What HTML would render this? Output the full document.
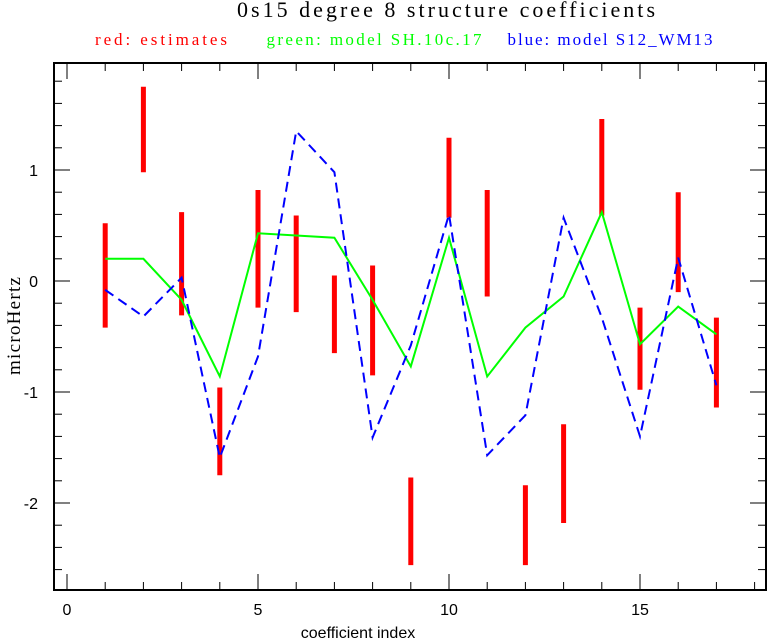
<!DOCTYPE html>
<html><head><meta charset="utf-8"><style>
html,body{margin:0;padding:0;background:#fff;}
svg{display:block;}
</style></head><body>
<svg id="chart" width="767" height="641" xmlns="http://www.w3.org/2000/svg">
<text x="446" y="17" text-anchor="middle" font-family="Liberation Serif, serif" font-size="22" textLength="418" fill="#000">0s15 degree 8 structure coefficients</text>
<text x="161" y="45" text-anchor="middle" font-family="Liberation Serif, serif" font-size="17" textLength="132" fill="#ff0000">red: estimates</text>
<text x="374" y="45" text-anchor="middle" font-family="Liberation Serif, serif" font-size="17" textLength="215" fill="#00ff00">green: model SH.10c.17</text>
<text x="610" y="45" text-anchor="middle" font-family="Liberation Serif, serif" font-size="17" textLength="205" fill="#0000ff">blue: model S12_WM13</text>
<rect x="54" y="63" width="712" height="527" fill="none" stroke="#000" stroke-width="2"/>
<g id="ticks"></g>
<g id="marks"></g>
<text x="358" y="638" text-anchor="middle" font-family="Liberation Sans, sans-serif" font-size="16" fill="#000">coefficient index</text>
<text transform="translate(20,326) rotate(-90)" text-anchor="middle" font-family="Liberation Serif, serif" font-size="19" textLength="98" fill="#000">microHertz</text>
</svg>
<script>
const indices = [1,2,3,4,5,6,7,8,9,10,11,12,13,14,15,16,17];
const estLow = [-0.42,0.98,-0.31,-1.75,-0.24,-0.28,-0.65,-0.85,-2.56,0.57,-0.14,-2.56,-2.18,0.59,-0.98,-0.10,-1.14];
const estHigh = [0.52,1.75,0.62,-0.96,0.82,0.59,0.05,0.14,-1.77,1.29,0.82,-1.84,-1.29,1.46,-0.24,0.80,-0.33];
const greenModel = [0.2,0.2,-0.17,-0.86,0.43,0.41,0.39,-0.17,-0.77,0.39,-0.86,-0.42,-0.14,0.62,-0.57,-0.23,-0.48];
const blueModel = [-0.08,-0.32,0.03,-1.59,-0.68,1.35,0.98,-1.41,-0.58,0.60,-1.57,-1.21,0.57,-0.33,-1.40,0.21,-0.94];
const xTickLabels = [0,5,10,15];
const yTickLabels = [-2,-1,0,1];

const NS="http://www.w3.org/2000/svg";
const xs = v => 67 + v*38.2;
const ys = v => 281 - v*111;
const ticks=document.getElementById('ticks');
const marks=document.getElementById('marks');
function mk(tag,attrs,parent){const e=document.createElementNS(NS,tag);for(const k in attrs)e.setAttribute(k,attrs[k]);parent.appendChild(e);return e;}
for(let i=0;i<=18;i++){
  const major=i%5===0, L=major?16:8, x=xs(i);
  const t1=mk('line',{x1:x,x2:x,y1:590,y2:590-L,stroke:'#000','stroke-width':1},ticks);
  
  
  const t2=mk('line',{x1:x,x2:x,y1:63,y2:63+L,stroke:'#000','stroke-width':1},ticks);
  
  
}
xTickLabels.forEach(v=>{
  const t=mk('text',{x:xs(v),y:615,'text-anchor':'middle','font-family':'Liberation Sans, sans-serif','font-size':16},ticks);
  t.textContent=v;
  
  
});
for(let k=-13;k<=9;k++){
  const v=k*0.2, y=ys(v), major=k%5===0, L=major?16:8;
  if(y<63||y>590)continue;
  const t1=mk('line',{x1:54,x2:54+L,y1:y,y2:y,stroke:'#000','stroke-width':1},ticks);
  
  
  const t2=mk('line',{x1:766,x2:766-L,y1:y,y2:y,stroke:'#000','stroke-width':1},ticks);
  
  
}
yTickLabels.forEach(v=>{
  const t=mk('text',{x:38,y:ys(v)+6,'text-anchor':'end','font-family':'Liberation Sans, sans-serif','font-size':16},ticks);
  t.textContent=v;
  
  
});
indices.forEach((ix,i)=>{
  const b=mk('line',{x1:xs(ix),x2:xs(ix),y1:ys(estLow[i]),y2:ys(estHigh[i]),stroke:'#ff0000','stroke-width':5},marks);
  
  
});
const gp=mk('polyline',{points:indices.map((ix,i)=>xs(ix)+','+ys(greenModel[i])).join(' '),fill:'none',stroke:'#00ff00','stroke-width':2},marks);


const bp=mk('polyline',{points:indices.map((ix,i)=>xs(ix)+','+ys(blueModel[i])).join(' '),fill:'none',stroke:'#0000ff','stroke-width':2,'stroke-dasharray':'10,6'},marks);


</script>
</body></html>
